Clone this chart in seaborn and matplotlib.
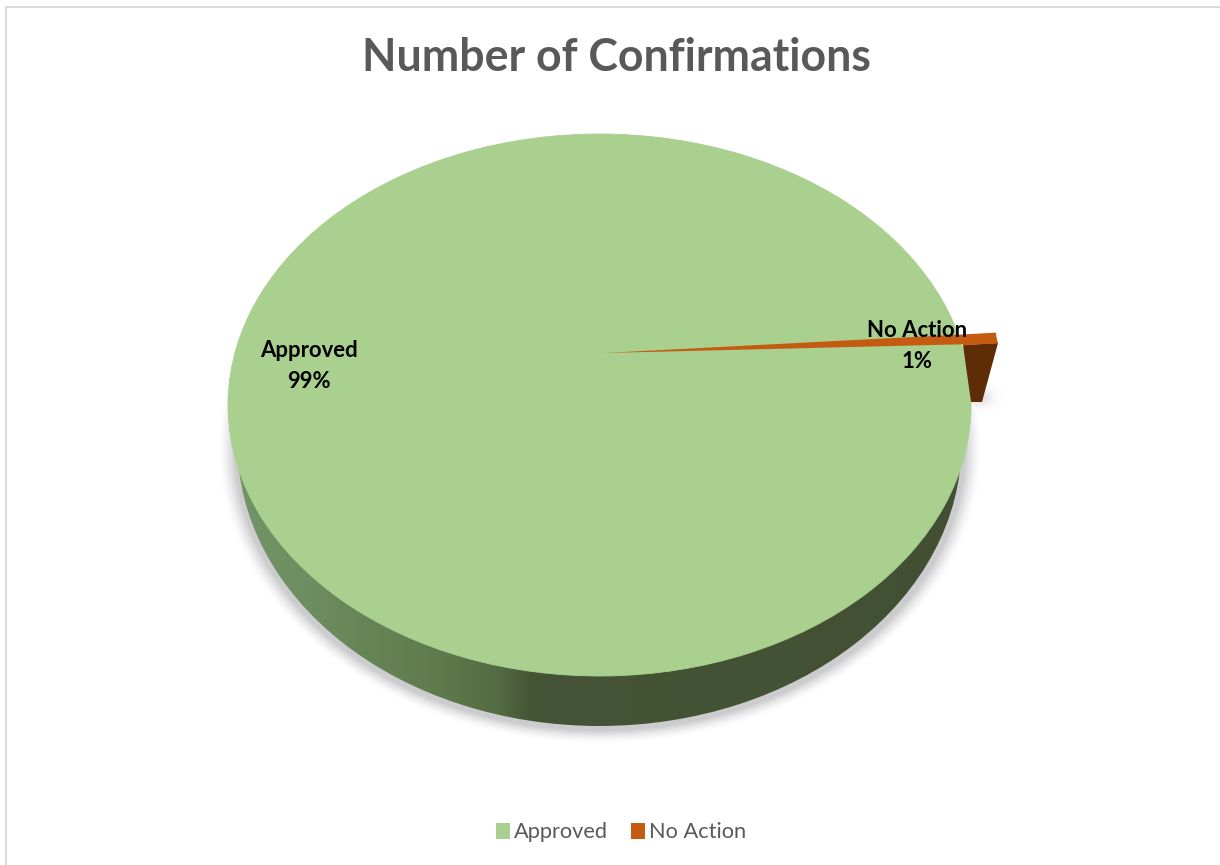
import numpy as np
import matplotlib
matplotlib.use("Agg")
import matplotlib.pyplot as plt
import seaborn as sns
from matplotlib.patches import Ellipse, Polygon, Patch
from matplotlib.transforms import Affine2D

categories = ["Approved", "No Action"]
values = [99.4, 0.6]
pct_labels = ["99%", "1%"]
title = "Number of Confirmations"
colors = ["#A9D08E", "#C55A11"]

W, H = 1220, 865
sns.set_theme(style="white")
plt.rcParams["font.family"] = ["Lato", "DejaVu Sans"]
fig = plt.figure(figsize=(W / 100, H / 100), dpi=100)
ax = fig.add_axes([0, 0, 1, 1])


def Y(y):
    return H - y


def squash(cx, cy, rx, ry):
    return Affine2D().scale(rx, ry).translate(cx, Y(cy)) + ax.transData


# top face geometry (pixels)
CX, CY, RX, RY = 599.5, 405, 371.5, 271
# rim (lower outline)
LX, LY, LRX, LRY = 599.5, 444, 362, 282

green_wedges, _ = ax.pie(values, colors=[colors[0], colors[0]], startangle=90,
                         counterclock=False,
                         wedgeprops=dict(linewidth=0.6, edgecolor=colors[0], zorder=5))
orange_wedges, _ = ax.pie(values[::-1], colors=[colors[1], "none"], startangle=1.9,
                          wedgeprops=dict(linewidth=0, zorder=7))
ax.set_aspect("auto")
ax.set_xlim(0, W)
ax.set_ylim(0, H)
ax.axis("off")
for w in green_wedges:
    w.set_transform(squash(CX, CY, RX, RY))
for w in orange_wedges:
    w.set_transform(squash(604, 353, 393, 393 * 0.73))

# soft shadow under the rim and under the exploded slice
xx, yy = np.meshgrid(np.arange(180, 1040), np.arange(380, 770))
d = (np.hypot((xx - LX) / (LRX + 3), (yy - (LY + 4)) / LRY) - 1) * 320
alpha = 0.5 * np.clip(1 - d / 15, 0, 1) ** 1.6
alpha2 = 0.3 * np.exp(-(((xx - 980) / 12.0) ** 2 + ((yy - 397) / 9.0) ** 2))
img = np.zeros(xx.shape + (4,))
img[..., :3] = np.array([0.6, 0.6, 0.63])
img[..., 3] = np.maximum(alpha, alpha2)
ax.imshow(img, extent=(180, 1040, Y(770), Y(380)), origin="upper", aspect="auto", zorder=1,
          interpolation="bilinear")

# shaded rim
stops_x = [235, 300, 440, 500, 530, 980]
stops_c = np.array([[0.45, 0.58, 0.40], [0.43, 0.56, 0.38], [0.37, 0.48, 0.30],
                    [0.33, 0.42, 0.26], [0.27, 0.33, 0.21], [0.26, 0.31, 0.20]])
grad_x = np.linspace(235, 980, 512)
grad = np.stack([np.interp(grad_x, stops_x, stops_c[:, i]) for i in range(3)], axis=-1)[None, :, :]
im = ax.imshow(grad, extent=(235, 980, Y(740), Y(420)), aspect="auto", zorder=3)
rim = Ellipse((LX, Y(LY)), 2 * LRX, 2 * LRY, transform=ax.transData, fc="none", ec="none")
ax.add_patch(rim)
im.set_clip_path(rim)
ax.set_xlim(0, W)
ax.set_ylim(0, H)

# exploded slice side face
side = [(963, 345), (998, 343), (982, 402), (971, 402)]
ax.add_patch(Polygon([(x, Y(y)) for x, y in side], closed=True, fc="#5E2C05", ec="none", zorder=6))
top_end = [(962, 335.5), (995, 333), (998, 343), (963, 345.5)]
ax.add_patch(Polygon([(x, Y(y)) for x, y in top_end], closed=True, fc=colors[1], ec="none", zorder=7))

# chart frame: only the left and top edges are in view
ax.plot([6, 6, W], [0, Y(6.5), Y(6.5)], color="#D9D9D9", lw=1.4, zorder=0, solid_joinstyle="miter")

ax.text(616, Y(58), title, ha="center", va="center", fontsize=32.1, fontweight="bold",
        color="#595959", zorder=10)
ax.text(309, Y(350.5), categories[0], ha="center", va="center", fontsize=15.9, fontweight="bold",
        color="black", zorder=10)
ax.text(309, Y(381.5), pct_labels[0], ha="center", va="center", fontsize=15.9, fontweight="bold",
        color="black", zorder=10)
ax.text(917, Y(330.5), categories[1], ha="center", va="center", fontsize=15.9, fontweight="bold",
        color="black", zorder=10)
ax.text(917, Y(361.5), pct_labels[1], ha="center", va="center", fontsize=15.9, fontweight="bold",
        color="black", zorder=10)

handles = [Patch(fc=c, ec="none", label=l) for c, l in zip(colors, categories)]
leg = ax.legend(handles=handles, loc="center", bbox_to_anchor=(621 / W, 1 - 832.5 / H), ncol=2,
                frameon=False, fontsize=15.7, labelcolor="#595959", handlelength=0.64,
                handleheight=0.78, handletextpad=0.18, columnspacing=1.1, borderpad=0)

fig.savefig("out.png", dpi=100, facecolor="white")
